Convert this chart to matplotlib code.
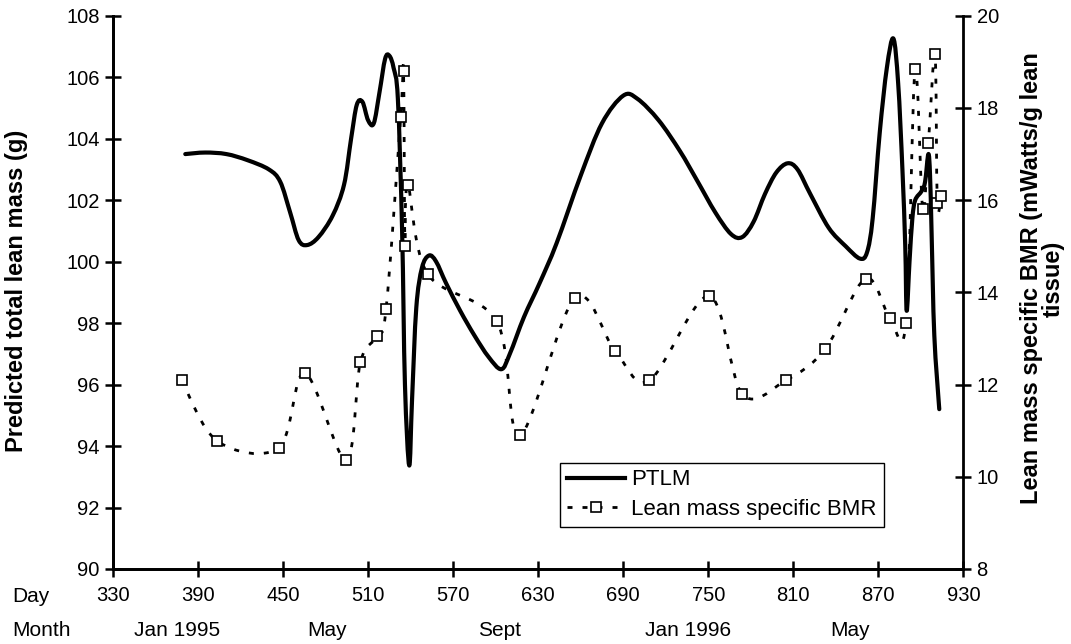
import numpy as np
import matplotlib
matplotlib.use("Agg")
import matplotlib.pyplot as plt
from matplotlib.path import Path
from matplotlib.patches import PathPatch
from matplotlib.lines import Line2D
from matplotlib.transforms import blended_transform_factory

plt.rcParams['font.family'] = ['Liberation Sans', 'DejaVu Sans']

# Predicted total lean mass (g), left axis
ptlm_day = [381, 395, 410, 425, 440, 448, 455, 461, 467, 475, 485, 493, 498, 502, 506,
            510, 514, 518, 522, 525, 528, 531, 534, 536, 539, 541, 544, 548, 553, 558,
            565, 575, 585, 595, 604, 610, 620, 631, 643, 660, 675, 690, 700, 715, 730,
            742, 755, 766, 774, 782, 790, 798, 806, 813, 822, 835, 847, 857, 862, 866,
            871, 876, 880.6, 884, 887, 889, 890, 892, 894, 896, 900.6, 903, 905.3, 906.5,
            907.6, 909.5, 913]
ptlm_val = [103.5, 103.55, 103.5, 103.3, 103.0, 102.6, 101.6, 100.7, 100.54, 100.8, 101.5,
            102.5, 104.0, 105.1, 105.2, 104.6, 104.5, 105.5, 106.6, 106.7, 106.3, 105.3,
            101.0, 96.0, 93.37, 95.5, 98.5, 99.8, 100.2, 100.0, 99.3, 98.4, 97.6, 96.9,
            96.5, 97.0, 98.2, 99.3, 100.6, 102.8, 104.5, 105.4, 105.3, 104.6, 103.6, 102.65,
            101.6, 100.9, 100.8, 101.3, 102.2, 102.9, 103.2, 103.0, 102.2, 101.1, 100.5,
            100.1, 100.3, 101.4, 104.2, 106.3, 107.26, 105.8, 103.0, 100.5, 98.4, 100.0,
            101.4, 102.0, 102.3, 102.6, 103.5, 102.8, 100.9, 97.6, 95.2]

# Lean mass specific BMR (mWatts/g lean tissue), right axis
bmr_day = [378.5, 403.7, 446.9, 465.3, 494.5, 504.5, 516.4, 522.7, 533, 535, 536, 538,
           552, 600.8, 617, 656, 684.3, 708.5, 750.6, 774.1, 804.6, 832.5, 861, 878.2,
           889.5, 895.9, 901.3, 905.3, 910, 911.6, 914.2]
bmr_val = [12.09, 10.77, 10.63, 12.25, 10.36, 12.48, 13.05, 13.65, 17.8, 18.8, 15.0, 16.33,
           14.4, 13.37, 10.9, 13.88, 12.73, 12.09, 13.92, 11.79, 12.09, 12.77, 14.3, 13.44,
           13.34, 18.84, 15.80, 17.23, 19.17, 15.93, 16.08]

day_ticks = list(range(330, 931, 60))
month_labels = ["Jan 1995", "May", "Sept", "Jan 1996", "May"]
month_pos = [375, 481, 603, 736, 850]


def smooth_path(x, y):
    # smoothed line like the spreadsheet one: bezier segments through the points
    x = np.asarray(x, float)
    y = np.asarray(y, float)
    n = len(x)
    verts = [(x[0], y[0])]
    codes = [Path.MOVETO]
    for i in range(n - 1):
        i0 = max(i - 1, 0)
        i3 = min(i + 2, n - 1)
        c1 = (x[i] + (x[i + 1] - x[i0]) / 6, y[i] + (y[i + 1] - y[i0]) / 6)
        c2 = (x[i + 1] - (x[i3] - x[i]) / 6, y[i + 1] - (y[i3] - y[i]) / 6)
        verts += [c1, c2, (x[i + 1], y[i + 1])]
        codes += [Path.CURVE4] * 3
    return Path(verts, codes)


fig = plt.figure(figsize=(10.71, 6.44), dpi=100)
ax = fig.add_axes([0.1055, 0.1165, 0.794, 0.859])
ax.set_xlim(330, 930)
ax.set_ylim(90, 108)
ax2 = ax.twinx()
ax2.set_ylim(8, 20)

dots = (0, (1.8, 3.6))
ax.add_patch(PathPatch(smooth_path(ptlm_day, ptlm_val), fill=False, lw=3, ec="black",
                       capstyle="round", joinstyle="round"))
ax2.add_patch(PathPatch(smooth_path(bmr_day, bmr_val), fill=False, lw=2.0, ec="black",
                        linestyle=dots))
ax2.plot(bmr_day, bmr_val, ls="none", marker="s", ms=6.5, mfc="white", mec="black", mew=1.2)

for a in (ax, ax2):
    a.spines["top"].set_visible(False)
    for s in ("left", "right", "bottom"):
        a.spines[s].set_linewidth(2)
ax.spines["right"].set_visible(False)

ax.set_xticks(day_ticks)
ax.set_yticks(range(90, 109, 2))
ax2.set_yticks(range(8, 21, 2))
ax.tick_params(axis="both", direction="inout", length=12, width=1.8, labelsize=14.5)
ax.tick_params(axis="x", pad=6)
ax2.tick_params(axis="y", direction="inout", length=12, width=1.8, labelsize=14.5)

ax.set_ylabel("Predicted total lean mass (g)", fontsize=17, fontweight="bold")
ax.yaxis.set_label_coords(-0.1, 0.503)
ax.text(1.093, 0.525, "Lean mass specific BMR (mWatts/g lean\ntissue)", transform=ax.transAxes,
        fontsize=17, fontweight="bold", rotation=90, ha="center", va="center",
        multialignment="center", linespacing=0.95)

trans = blended_transform_factory(ax.transData, ax.transAxes)
ax.text(-0.118, -0.0506, "Day", transform=ax.transAxes, fontsize=15, va="center", ha="left")
ax.text(-0.118, -0.112, "Month", transform=ax.transAxes, fontsize=15, va="center", ha="left")
for lab, pos in zip(month_labels, month_pos):
    ax.text(pos, -0.112, lab, transform=trans, fontsize=15, va="center", ha="center")

handles = [Line2D([], [], color="black", lw=3),
           Line2D([], [], color="black", lw=2.0, ls=dots, marker="s", ms=6.5,
                  mfc="white", mec="black", mew=1.2)]
leg = ax2.legend(handles, ["PTLM", "Lean mass specific BMR"], loc="lower left",
                 bbox_to_anchor=(0.526, 0.076), fontsize=16, frameon=True,
                 fancybox=False, edgecolor="black", framealpha=1, borderpad=0.3,
                 labelspacing=0.4, handlelength=2.6, handletextpad=0.3, borderaxespad=0)
leg.get_frame().set_linewidth(1.0)

fig.savefig("out.png", dpi=100)
